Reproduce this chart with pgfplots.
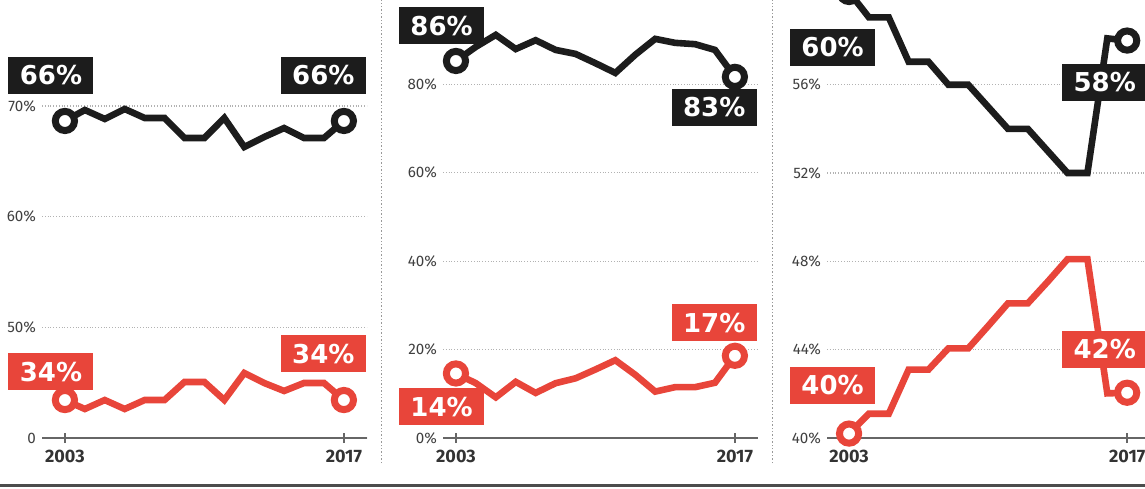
\documentclass[border=0pt]{standalone}
\usepackage{pgfplots}
\pgfplotsset{compat=1.18}
\usepackage{fontspec}
\setmainfont{Fira Sans}
\newfontfamily\labfont{DejaVu Sans}
\definecolor{rd}{HTML}{E8453A}
\definecolor{bk}{HTML}{1C1C1C}
\pgfplotsset{
  panel/.style={scale only axis, anchor=south west, clip=false,
    axis x line*=bottom, axis y line*=left,
    y axis line style={draw=none},
    x axis line style={draw=black!60, line width=0.8pt, -},
    xtick={2003,2017}, xticklabels={2003,2017},
    tick align=center, ytick style={draw=none},
    xtick style={draw=black!60, line width=0.8pt}, major tick length=5pt,
    ymajorgrids, grid style={densely dotted, black!30, line width=0.6pt},
    yticklabel style={font=\fontsize{7.6}{8}\selectfont, text=black!75, xshift=3pt},
    xticklabel style={font=\fontsize{9}{9}\selectfont\bfseries, text=black!80},
    /pgf/number format/assume math mode=true},
  bline/.style={draw=bk, line width=3.3pt, mark=*, mark indices={1,15}, mark size=4.8pt,
    mark options={fill=white, draw=bk, line width=3.5pt, solid}},
  rline/.style={draw=rd, line width=3.3pt, mark=*, mark indices={1,15}, mark size=4.8pt,
    mark options={fill=white, draw=rd, line width=3.5pt, solid}}
}
\tikzset{
  bbox/.style={fill=bk, text=white, font=\labfont\bfseries\fontsize{13}{13}\selectfont,
    minimum width=42.5pt, minimum height=18.5pt, inner sep=0pt},
  rbox/.style={bbox, fill=rd}
}
\begin{document}
\begin{tikzpicture}
\useasboundingbox (0pt,0pt) rectangle (572.5pt,244pt);
\clip (0pt,0pt) rectangle (572.5pt,244pt);
\draw[black!40, densely dotted, line width=0.7pt] (190.75pt,12.5pt) -- (190.75pt,244pt);
\draw[black!40, densely dotted, line width=0.7pt] (386.25pt,12.5pt) -- (386.25pt,244pt);
\draw[black!70, line width=1.5pt] (0pt,1.5pt) -- (572.5pt,1.5pt);

% Panel 1
\begin{axis}[panel, at={(21pt,25pt)}, width=162.4pt, height=221.4pt,
  xmin=2001.85, xmax=2018.15, ymin=40, ymax=80,
  ytick={40,50,60,70}, yticklabels={0,50\%,60\%,70\%}]
\addplot[bline] coordinates {(2003,68.64) (2004,69.63) (2005,68.82) (2006,69.72) (2007,68.91) (2008,68.91) (2009,67.10) (2010,67.10) (2011,68.91) (2012,66.29) (2013,67.19) (2014,68.0) (2015,67.10) (2016,67.10) (2017,68.64)};
\addplot[rline] coordinates {(2003,43.43) (2004,42.62) (2005,43.43) (2006,42.62) (2007,43.43) (2008,43.43) (2009,45.06) (2010,45.06) (2011,43.43) (2012,45.87) (2013,44.97) (2014,44.25) (2015,44.97) (2016,44.97) (2017,43.43)};
\node[bbox] at (axis cs:2002.30,72.79) {66\%};
\node[bbox] at (axis cs:2015.97,72.79) {66\%};
\node[rbox] at (axis cs:2002.30,46.0) {34\%};
\node[rbox] at (axis cs:2015.97,47.63) {34\%};
\end{axis}

% Panel 2
\begin{axis}[panel, at={(221.5pt,25pt)}, width=157.4pt, height=221pt,
  xmin=2002.35, xmax=2018.15, ymin=0, ymax=100,
  ytick={0,20,40,60,80}, yticklabels={0\%,20\%,40\%,60\%,80\%}]
\addplot[bline] coordinates {(2003,85.3) (2004,88.5) (2005,91.2) (2006,88.0) (2007,90.0) (2008,87.8) (2009,86.9) (2010,84.8) (2011,82.6) (2012,86.7) (2013,90.3) (2014,89.4) (2015,89.1) (2016,87.8) (2017,81.7)};
\addplot[rline] coordinates {(2003,14.6) (2004,12.4) (2005,9.2) (2006,12.7) (2007,10.2) (2008,12.4) (2009,13.5) (2010,15.5) (2011,17.6) (2012,14.3) (2013,10.5) (2014,11.5) (2015,11.5) (2016,12.5) (2017,18.6)};
\node[bbox] at (axis cs:2002.28,93.26) {86\%};
\node[bbox] at (axis cs:2015.96,74.84) {83\%};
\node[rbox] at (axis cs:2015.96,26.06) {17\%};
\node[rbox] at (axis cs:2002.28,7.08) {14\%};
\end{axis}

% Panel 3
\begin{axis}[panel, at={(413.5pt,25pt)}, width=162pt, height=220.8pt,
  xmin=2001.89, xmax=2018.2, ymin=40, ymax=60,
  ytick={40,44,48,52,56}, yticklabels={40\%,44\%,48\%,52\%,56\%}]
\addplot[bline] coordinates {(2003,60.2) (2004,59.05) (2005,59.05) (2006,57.04) (2007,57.04) (2008,56.0) (2009,56.0) (2010,55.0) (2011,54.0) (2012,54.0) (2013,53.0) (2014,52.0) (2015,52.0) (2016,58.1) (2017,58.0)};
\addplot[rline] coordinates {(2003,40.2) (2004,41.1) (2005,41.1) (2006,43.1) (2007,43.1) (2008,44.06) (2009,44.06) (2010,45.07) (2011,46.1) (2012,46.1) (2013,47.08) (2014,48.1) (2015,48.1) (2016,42.02) (2017,42.05)};
\node[bbox] at (axis cs:2002.17,57.70) {60\%};
\node[bbox] at (axis cs:2015.87,56.12) {58\%};
\node[rbox] at (axis cs:2015.87,44.02) {42\%};
\node[rbox] at (axis cs:2002.17,42.39) {40\%};
\end{axis}
\end{tikzpicture}
\end{document}
